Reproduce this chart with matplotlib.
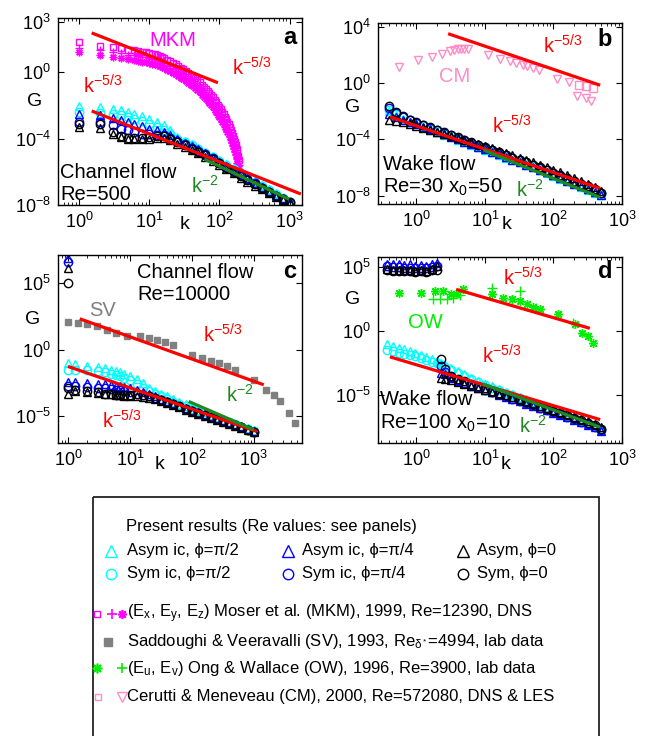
import numpy as np
import matplotlib
matplotlib.use('Agg')
import matplotlib.pyplot as plt
from matplotlib.ticker import LogLocator, NullFormatter, NullLocator
from matplotlib.patches import Rectangle

plt.rcParams['font.family'] = ['Liberation Sans', 'DejaVu Sans']
plt.rcParams['mathtext.fontset'] = 'custom'
plt.rcParams['mathtext.rm'] = 'Liberation Sans'
plt.rcParams['mathtext.it'] = 'Liberation Sans:italic'
plt.rcParams['mathtext.default'] = 'regular'

W, H = 652, 736

# ---------------- data (log10 G values) ----------------
# panel a: channel flow Re=500
ka = [1, 2, 3, 4, 5, 6, 8, 10, 13, 16, 20, 25, 32, 40, 50, 63, 80, 100, 125, 160,
      200, 250, 320, 400, 500, 630, 800, 1000]
a_cyan_tri = [-2.05, -2.1, -2.2, -2.3, -2.4, -2.5, -2.65, -2.8, -3.0, -3.2, -3.5, -3.9, -4.15, -4.35,
              -4.55, -4.8, -5.05, -5.3, -5.55, -5.8, -6.05, -6.3, -6.55, -6.8, -7.05, -7.3, -7.55, -7.75]
a_cyan_circ = [-2.4, -2.45, -2.5, -2.6, -2.7, -2.8, -2.95, -3.1, -3.3, -3.5, -3.7, -4.0, -4.2, -4.4,
               -4.6, -4.85, -5.1, -5.35, -5.6, -5.85, -6.1, -6.35, -6.6, -6.85, -7.1, -7.35, -7.6, -7.8]
a_blue_tri = [-2.55, -2.6, -2.75, -2.9, -3.0, -3.1, -3.25, -3.4, -3.5, -3.6, -3.8, -4.05, -4.25, -4.45,
              -4.65, -4.9, -5.15, -5.4, -5.65, -5.9, -6.15, -6.4, -6.65, -6.9, -7.15, -7.4, -7.6, -7.8]
a_blue_circ = [-3.0, -3.0, -3.2, -3.4, -3.5, -3.6, -3.7, -3.75, -3.8, -3.8, -3.95, -4.15, -4.35, -4.55,
               -4.75, -4.95, -5.2, -5.45, -5.7, -5.95, -6.2, -6.45, -6.7, -6.95, -7.2, -7.45, -7.65, -7.85]
a_black_tri = [-3.3, -3.35, -3.7, -3.9, -4.0, -4.05, -4.05, -4.0, -3.95, -3.95, -4.1, -4.3, -4.5, -4.7,
               -4.9, -5.1, -5.35, -5.6, -5.85, -6.1, -6.35, -6.6, -6.85, -7.05, -7.3, -7.5, -7.7, -7.85]
a_black_circ = [-3.1, -3.1, -3.6, -3.85, -3.95, -3.95, -3.95, -3.9, -3.85, -3.85, -4.0, -4.2, -4.4, -4.6,
                -4.8, -5.0, -5.25, -5.5, -5.75, -6.0, -6.25, -6.5, -6.75, -7.0, -7.2, -7.45, -7.65, -7.8]

mkm_k = [1, 2, 3, 4, 5, 6, 7, 8, 9, 10, 11, 12, 13, 14, 15, 16, 18, 20, 22, 24, 26, 28, 30,
         33, 36, 39, 42, 45, 48, 52, 56, 60, 64, 68, 72, 76, 80, 85, 90, 95, 100,
         105, 110, 115, 120, 125, 130, 135, 140, 145, 150, 155, 160, 165, 170, 175, 180, 185, 190]
mkm_ex = [1.8, 1.56, 1.48, 1.42, 1.35, 1.3, 1.26, 1.22, 1.19, 1.16, 1.11, 1.06, 1.01, 0.96, 0.9, 0.84,
          0.74, 0.66, 0.57, 0.48, 0.37, 0.26, 0.18, 0.06, -0.05, -0.16, -0.25, -0.36, -0.48, -0.62,
          -0.76, -0.9, -1.02, -1.14, -1.27, -1.39, -1.5, -1.66, -1.82, -1.96, -2.1, -2.25, -2.4,
          -2.55, -2.7, -2.85, -3.0, -3.15, -3.3, -3.48, -3.65, -3.82, -4.0, -4.2, -4.4, -4.62,
          -4.85, -5.08, -5.3]
mkm_ey = [1.46, 1.3, 1.2, 1.12, 1.05, 1.0, 0.96, 0.92, 0.89, 0.86, 0.81, 0.76, 0.71, 0.66, 0.6, 0.54,
          0.44, 0.36, 0.27, 0.18, 0.07, -0.04, -0.12, -0.24, -0.35, -0.46, -0.55, -0.66, -0.78,
          -0.92, -1.06, -1.2, -1.32, -1.44, -1.57, -1.69, -1.8, -1.96, -2.12, -2.26, -2.4, -2.55,
          -2.7, -2.85, -3.0, -3.15, -3.3, -3.45, -3.6, -3.78, -3.95, -4.12, -4.3, -4.5, -4.7,
          -4.92, -5.15, -5.38, -5.6]
mkm_ez = [1.18, 1.05, 0.92, 0.84, 0.76, 0.7, 0.66, 0.62, 0.59, 0.56, 0.51, 0.46, 0.41, 0.36, 0.3, 0.24,
          0.14, 0.06, -0.03, -0.12, -0.23, -0.34, -0.42, -0.54, -0.65, -0.76, -0.85, -0.96, -1.08,
          -1.22, -1.36, -1.5, -1.62, -1.74, -1.87, -1.99, -2.1, -2.26, -2.42, -2.56, -2.7, -2.85,
          -3.0, -3.15, -3.3, -3.45, -3.6, -3.75, -3.9, -4.08, -4.25, -4.42, -4.6, -4.8, -5.0,
          -5.22, -5.45, -5.68, -5.9]

# panel b: wake flow Re=30 x0=50
kb = [0.4, 0.5, 0.63, 0.8, 1, 1.26, 1.6, 2, 2.5, 3.2, 4, 5, 6.3, 8, 10, 12.6, 16, 20, 25, 32, 40,
      50, 63, 80, 100, 126, 160, 200, 250, 320, 400, 500]
b_cyan_tri = [-2.0, -2.3, -2.55, -2.75, -2.95, -3.15, -3.35, -3.5, -3.7, -3.85, -4.05, -4.2, -4.4, -4.55,
              -4.75, -4.9, -5.1, -5.3, -5.45, -5.65, -5.85, -6.0, -6.2, -6.4, -6.6, -6.8, -7.0, -7.2,
              -7.4, -7.6, -7.8, -7.95]
b_cyan_circ = [-1.9, -2.2, -2.45, -2.65, -2.85, -3.05, -3.25, -3.4, -3.6, -3.75, -3.95, -4.1, -4.3, -4.45,
               -4.65, -4.8, -5.0, -5.2, -5.35, -5.55, -5.75, -5.9, -6.1, -6.3, -6.5, -6.7, -6.9, -7.1,
               -7.3, -7.5, -7.7, -7.9]
b_blue_tri = [-2.2, -2.4, -2.6, -2.8, -2.95, -3.15, -3.3, -3.5, -3.65, -3.85, -4.0, -4.2, -4.35, -4.55,
              -4.7, -4.9, -5.05, -5.25, -5.45, -5.6, -5.8, -6.0, -6.15, -6.35, -6.55, -6.75, -6.95, -7.15,
              -7.35, -7.55, -7.75, -7.95]
b_blue_circ = [-1.75, -2.15, -2.45, -2.65, -2.85, -3.0, -3.2, -3.35, -3.55, -3.7, -3.9, -4.05, -4.25, -4.4,
               -4.6, -4.75, -4.95, -5.1, -5.3, -5.5, -5.65, -5.85, -6.05, -6.2, -6.4, -6.6, -6.8, -7.0,
               -7.2, -7.4, -7.6, -7.85]
b_black_tri = [-2.6, -2.7, -2.8, -2.9, -3.05, -3.2, -3.35, -3.5, -3.6, -3.75, -3.9, -4.05, -4.2, -4.35,
               -4.5, -4.65, -4.8, -4.95, -5.15, -5.3, -5.45, -5.65, -5.8, -6.0, -6.15, -6.35, -6.55,
               -6.75, -6.95, -7.15, -7.4, -7.65]
b_black_circ = [-1.65, -2.05, -2.35, -2.6, -2.8, -3.0, -3.15, -3.35, -3.5, -3.7, -3.85, -4.05, -4.2, -4.4,
                -4.55, -4.75, -4.9, -5.1, -5.3, -5.45, -5.65, -5.8, -6.0, -6.2, -6.4, -6.55, -6.75,
                -6.95, -7.15, -7.35, -7.55, -7.8]

cm_tri_k = [0.55, 1.07, 1.66, 2.34, 3.09, 3.55, 3.98, 4.47, 5.01, 5.62, 11.2, 16.6, 23.4, 28.2, 35.5,
            41.7, 50.1, 61.7, 112, 166, 219, 295, 355]
cm_tri_g = [1.13, 1.61, 1.84, 2.08, 2.3, 2.35, 2.38, 2.4, 2.4, 2.38, 1.96, 1.73, 1.55, 1.45, 1.3, 1.2,
            1.05, 0.92, 0.31, 0.07, -0.9, -1.1, -1.26]
cm_sq_k = [234, 295, 372]
cm_sq_g = [-0.16, -0.2, -0.35]

# panel c: channel flow Re=10000
kc = [1, 1.3, 2, 3, 4, 5, 6, 7, 8, 10, 13, 16, 20, 25, 32, 40, 50, 63, 80, 100, 126, 160, 200,
      250, 320, 400, 500, 630, 800, 1000]
c_cyan_tri = [-1.0, -1.05, -1.2, -1.3, -1.4, -1.5, -1.6, -1.7, -1.8, -2.0, -2.2, -2.5, -2.85, -3.1,
              -3.3, -3.5, -3.7, -3.9, -4.1, -4.3, -4.5, -4.7, -4.9, -5.05, -5.25, -5.4, -5.55, -5.75,
              -5.9, -6.05]
c_cyan_circ = [-1.5, -1.5, -1.55, -1.6, -1.7, -1.8, -1.9, -2.0, -2.1, -2.3, -2.6, -2.9, -3.1, -3.3,
               -3.5, -3.7, -3.9, -4.05, -4.25, -4.45, -4.6, -4.8, -4.95, -5.15, -5.3, -5.45, -5.6,
               -5.8, -5.95, -6.1]
c_blue_tri = [-2.4, -2.4, -2.5, -2.55, -2.6, -2.65, -2.7, -2.75, -2.8, -2.9, -3.0, -3.15, -3.35, -3.5,
              -3.7, -3.85, -4.0, -4.2, -4.4, -4.55, -4.7, -4.85, -5.0, -5.15, -5.3, -5.45, -5.6, -5.75,
              -5.95, -6.1]
c_blue_circ = [-2.7, -2.7, -2.8, -2.85, -2.9, -2.95, -3.0, -3.05, -3.1, -3.2, -3.3, -3.4, -3.5, -3.65,
               -3.8, -3.95, -4.1, -4.25, -4.45, -4.6, -4.75, -4.9, -5.05, -5.2, -5.35, -5.5, -5.65,
               -5.8, -6.0, -6.15]
c_black_tri = [-3.3, -3.1, -3.2, -3.25, -3.3, -3.35, -3.4, -3.4, -3.45, -3.5, -3.5, -3.55, -3.6, -3.7,
               -3.85, -4.0, -4.15, -4.3, -4.5, -4.65, -4.8, -4.95, -5.1, -5.25, -5.4, -5.55, -5.7,
               -5.85, -6.05, -6.2]
c_black_circ = [-2.9, -3.0, -3.1, -3.2, -3.3, -3.35, -3.4, -3.4, -3.4, -3.4, -3.35, -3.4, -3.5, -3.65,
                -3.8, -3.95, -4.1, -4.25, -4.45, -4.6, -4.75, -4.9, -5.05, -5.2, -5.35, -5.5, -5.65,
                -5.8, -6.0, -6.15]
# k=1 outliers (blue tri, blue circ, black tri, black circ)
c_spike = [6.88, 6.63, 6.13, 5.0]

sv_k = [1, 1.45, 2.04, 2.9, 4.2, 6.0, 8.9, 14.5, 20, 27, 37, 50, 100, 145, 200, 270, 370, 500,
        1000, 1550, 2090, 2690, 3720, 4680]
sv_g = [2.12, 2.0, 1.92, 1.75, 1.5, 1.25, 1.05, 1.0, 0.87, 0.75, 0.55, 0.37, -0.37, -0.62, -0.87,
        -1.0, -1.25, -1.5, -2.25, -3.0, -3.37, -3.87, -4.75, -5.5]

# panel d: wake flow Re=100 x0=10
kd = [0.37, 0.45, 0.55, 0.65, 0.8, 0.95, 1.15, 1.4, 1.7, 2.0, 2.3, 2.6, 3.2, 4, 5, 6.3, 8, 10,
      12.6, 16, 20, 25, 32, 40, 50, 63, 80, 100, 126, 160, 200, 250, 320, 400, 500]
d_cyan_tri = [-1.0, -1.15, -1.3, -1.45, -1.6, -1.75, -1.9, -2.05, -2.2, -2.35, -2.5, -2.65, -2.9, -3.15,
              -3.4, -3.65, -3.9, -4.15, -4.35, -4.55, -4.75, -4.95, -5.15, -5.35, -5.55, -5.75, -5.95,
              -6.15, -6.35, -6.55, -6.75, -6.95, -7.15, -7.35, -7.6]
d_cyan_circ = [-1.5, -1.6, -1.7, -1.8, -1.9, -2.0, -2.1, -2.25, -2.4, -2.55, -2.7, -2.85, -3.05, -3.3,
               -3.55, -3.8, -4.0, -4.25, -4.45, -4.65, -4.85, -5.05, -5.25, -5.45, -5.65, -5.85, -6.05,
               -6.25, -6.45, -6.65, -6.85, -7.05, -7.25, -7.45, -7.7]
d_blue_tri = [5.25, 5.2, 5.2, 5.15, 5.2, 5.1, 5.15, 5.1, 5.2, 5.3, -3.3, -3.4, -3.7, -3.9, -4.1, -4.3,
              -4.45, -4.65, -4.8, -5.0, -5.15, -5.35, -5.5, -5.7, -5.85, -6.05, -6.2, -6.4, -6.55,
              -6.75, -6.95, -7.15, -7.35, -7.55, -7.8]
d_blue_circ = [5.05, 5.0, 5.0, 4.95, 4.95, 4.9, 4.95, 4.9, 5.0, 5.05, -2.75, -3.2, -3.6, -3.85, -4.05,
               -4.25, -4.4, -4.6, -4.75, -4.95, -5.1, -5.3, -5.45, -5.65, -5.8, -6.0, -6.15, -6.35,
               -6.5, -6.7, -6.9, -7.1, -7.3, -7.5, -7.75]
d_black_tri = [4.85, 4.8, 4.8, 4.75, 4.8, 4.7, 4.75, 4.7, 4.85, 5.05, -3.65, -3.8, -3.85, -4.0, -4.15,
               -4.3, -4.45, -4.6, -4.75, -4.9, -5.05, -5.2, -5.35, -5.5, -5.65, -5.85, -6.0, -6.15,
               -6.35, -6.5, -6.7, -6.9, -7.05, -7.25, -7.5]
d_black_circ = [4.75, 4.7, 4.7, 4.65, 4.7, 4.6, 4.65, 4.6, 4.75, 4.8, -2.2, -3.0, -3.5, -3.75, -3.95,
                -4.15, -4.35, -4.5, -4.7, -4.85, -5.05, -5.2, -5.4, -5.55, -5.75, -5.9, -6.1, -6.25,
                -6.45, -6.6, -6.8, -7.0, -7.2, -7.4, -7.65]

ow_star_k = [0.56, 1.17, 1.86, 2.45, 3.24, 3.8, 4.8, 12.6, 18.6, 24.5, 32.4, 40.7, 50.1, 63.1, 117,
             204, 257, 324, 380]
ow_star_g = [2.99, 2.99, 3.12, 3.12, 2.86, 2.86, 3.25, 2.86, 2.6, 2.47, 2.34, 2.08, 1.9, 1.69, 1.3,
             0.52, -0.13, -0.39, -0.91]
ow_plus_k = [1.74, 2.19, 2.75, 3.47, 4.27, 12.6, 32.4, 56.2, 195]
ow_plus_g = [2.47, 2.47, 2.52, 2.6, 2.78, 3.38, 3.12, 1.82, 0.65]

# fitted power-law lines: (k ends, log10 G ends)
fits = {
    'a': [([1.51, 95], [2.36, -0.64], 'red'), ([1.51, 1445], [-2.34, -7.34], 'red'),
          ([61, 980], [-5.24, -7.65], 'green')],
    'b': [([2.9, 480], [3.5, -0.16], 'red'), ([0.41, 480], [-2.41, -7.49], 'red'),
          ([9.5, 480], [-4.77, -8.13], 'green')],
    'c': [([1.55, 1450], [2.33, -2.63], 'red'), ([1.0, 1120], [-1.25, -6.13], 'red'),
          ([89, 1000], [-3.88, -6.0], 'green')],
    'd': [([3.8, 340], [3.25, 0.2], 'red'), ([0.41, 480], [-2.03, -6.94], 'red'),
          ([9.3, 480], [-4.15, -7.53], 'green')],
}

CYAN, BLUE, MAG, GRAY = '#00FFFF', '#0000FF', '#FF00FF', '#808080'
OWG, PINK, RED, DGREEN = '#00EE00', '#FF8CC6', '#FF0000', '#1F8A1F'
LINE_COL = {'red': RED, 'green': DGREEN}
ASTER = (8, 2, 0)   # matlab-like '*' marker
present_styles = [('^', CYAN), ('o', CYAN), ('^', BLUE), ('o', BLUE), ('^', 'k'), ('o', 'k')]

fig = plt.figure(figsize=(W / 100, H / 100), dpi=100)


def add_ax(x0, y0, x1, y1):
    return fig.add_axes([x0 / W, 1 - y1 / H, (x1 - x0) / W, (y1 - y0) / H])


def setup(ax, xlim, ylim, yticks):
    ax.set_xscale('log')
    ax.set_yscale('log')
    ax.set_xlim(xlim)
    ax.set_ylim(ylim)
    ax.set_xticks([1, 10, 100, 1000])
    ax.set_yticks(yticks)
    ax.xaxis.set_minor_locator(LogLocator(base=10, subs=np.arange(2, 10), numticks=20))
    ax.xaxis.set_minor_formatter(NullFormatter())
    ax.yaxis.set_minor_locator(NullLocator())
    ax.tick_params(which='both', direction='in', top=True, right=True, labelsize=13)
    ax.tick_params(which='major', length=4, width=0.8, pad=5)
    ax.tick_params(which='minor', length=2, width=0.6)
    for s in ax.spines.values():
        s.set_linewidth(1.0)


def pts(ax, k, lg, m, c, ms=6, filled=False, mew=1.0, z=2):
    ax.plot(k, 10.0 ** np.asarray(lg), ls='none', marker=m, ms=ms, mec=c,
            mfc=c if filled else 'none', mew=mew, zorder=z)


def present(ax, k, series):
    for (m, c), lg in zip(present_styles, series):
        pts(ax, k, lg, m, c)


def draw_fits(ax, key):
    for kk, lg, c in fits[key]:
        ax.plot(kk, 10.0 ** np.asarray(lg), color=LINE_COL[c], lw=2.3, zorder=4,
                solid_capstyle='butt')


def ftext(x, y, s, **kw):
    fig.text(x / W, 1 - y / H, s, **kw)


# ---------------- panel a ----------------
axa = add_ax(58, 18, 302, 205)
setup(axa, (0.5, 1500), (1e-8, 1800), [1e-8, 1e-4, 1e0, 1e3])
pts(axa, mkm_k, mkm_ex, 's', MAG, ms=4.5)
pts(axa, mkm_k, mkm_ey, '+', MAG, ms=5.5)
pts(axa, mkm_k, mkm_ez, ASTER, MAG, ms=5.5)
present(axa, ka, [a_cyan_tri, a_cyan_circ, a_blue_tri, a_blue_circ, a_black_tri, a_black_circ])
draw_fits(axa, 'a')

# ---------------- panel b ----------------
axb = add_ax(378, 23, 622, 204)
setup(axb, (0.275, 1000), (10 ** -8.6, 10 ** 4.26), [1e-8, 1e-4, 1e0, 1e4])
pts(axb, cm_tri_k, cm_tri_g, 'v', PINK, ms=6)
pts(axb, cm_sq_k, cm_sq_g, 's', PINK, ms=5.5)
present(axb, kb, [b_cyan_tri, b_cyan_circ, b_blue_tri, b_blue_circ, b_black_tri, b_black_circ])
draw_fits(axb, 'b')

# ---------------- panel c ----------------
axc = add_ax(58, 255, 302, 443)
setup(axc, (0.69, 6000), (1e-7, 10 ** 7.12), [1e-5, 1e0, 1e5])
pts(axc, sv_k, sv_g, 's', GRAY, ms=4.8, filled=True)
present(axc, kc, [c_cyan_tri, c_cyan_circ, c_blue_tri, c_blue_circ, c_black_tri, c_black_circ])
for (m, c), lg in zip(present_styles[2:], c_spike):
    pts(axc, [1], [lg], m, c)
draw_fits(axc, 'c')

# ---------------- panel d ----------------
axd = add_ax(378, 257, 622, 443)
setup(axd, (0.275, 1000), (10 ** -8.77, 10 ** 5.78), [1e-5, 1e0, 1e5])
pts(axd, ow_star_k, ow_star_g, ASTER, OWG, ms=6.5)
pts(axd, ow_plus_k, ow_plus_g, '+', OWG, ms=6.5)
present(axd, kd, [d_cyan_tri, d_cyan_circ, d_blue_tri, d_blue_circ, d_black_tri, d_black_circ])
draw_fits(axd, 'd')

# ---------------- panel annotations ----------------
TS = 14.5
K53 = 'k$^{-5/3}$'
K2 = 'k$^{-2}$'
for x, y in [(35, 101), (353, 107), (33, 320), (353, 300)]:
    ftext(x, y, 'G', fontsize=14, ha='center', va='center')
for x, y in [(185, 225), (507, 225), (160, 465), (506, 465)]:
    ftext(x, y, 'k', fontsize=14, ha='center', va='center')
for x, y, s in [(290, 37, 'a'), (605, 40, 'b'), (290, 272, 'c'), (605, 272, 'd')]:
    ftext(x, y, s, fontsize=17, fontweight='bold', ha='center', va='center')

ftext(173, 40, 'MKM', color=MAG, fontsize=TS, ha='center', va='center')
ftext(252, 68, K53, color=RED, fontsize=TS, ha='center', va='center')
ftext(103, 86, K53, color=RED, fontsize=TS, ha='center', va='center')
ftext(205, 186, K2, color=DGREEN, fontsize=TS, ha='center', va='center')
ftext(60, 183.5, 'Channel flow\nRe=500', fontsize=TS, ha='left', va='center', linespacing=1.2)

ftext(455, 77, 'CM', color=PINK, fontsize=TS, ha='center', va='center')
ftext(563, 46, K53, color=RED, fontsize=TS, ha='center', va='center')
ftext(512, 126, K53, color=RED, fontsize=TS, ha='center', va='center')
ftext(530, 190, K2, color=DGREEN, fontsize=TS, ha='center', va='center')
ftext(383, 176.5, 'Wake flow\nRe=30 x$_0$=50', fontsize=TS, ha='left', va='center', linespacing=1.2)

ftext(137, 283.5, 'Channel flow\nRe=10000', fontsize=TS, ha='left', va='center', linespacing=1.2)
ftext(103, 310, 'SV', color=GRAY, fontsize=TS, ha='center', va='center')
ftext(223, 335, K53, color=RED, fontsize=TS, ha='center', va='center')
ftext(122, 421, K53, color=RED, fontsize=TS, ha='center', va='center')
ftext(240, 395, K2, color=DGREEN, fontsize=TS, ha='center', va='center')

ftext(425, 322, 'OW', color=OWG, fontsize=TS, ha='center', va='center')
ftext(523, 278, K53, color=RED, fontsize=TS, ha='center', va='center')
ftext(502, 356, K53, color=RED, fontsize=TS, ha='center', va='center')
ftext(533, 426, K2, color=DGREEN, fontsize=TS, ha='center', va='center')
ftext(380, 412, 'Wake flow\nRe=100 x$_0$=10', fontsize=TS, ha='left', va='center', linespacing=1.2)

# ---------------- legend box ----------------
lax = fig.add_axes([0, 0, 1, 1])
lax.set_xlim(0, W)
lax.set_ylim(H, 0)
lax.axis('off')
lax.add_patch(Rectangle((93, 497), 506, 260, fill=False, lw=1.3, ec='#222222'))
LS = 12


def lmark(x, y, m, c, ms, filled=False, mew=1.0):
    lax.plot([x], [y], ls='none', marker=m, ms=ms, mec=c, mfc=c if filled else 'none', mew=mew)


def ltext(x, y, s):
    lax.text(x, y, s, fontsize=LS, ha='left', va='center')


ltext(126, 527, 'Present results (Re values: see panels)')
rows = [(551, '^', ['Asym ic, ϕ=π/2', 'Asym ic, ϕ=π/4', 'Asym, ϕ=0']),
        (573.5, 'o', ['Sym ic, ϕ=π/2', 'Sym ic, ϕ=π/4', 'Sym, ϕ=0'])]
cols = [(110.5, 127, CYAN), (288, 302, BLUE), (462.5, 477, 'k')]
for y, m, labels in rows:
    for (mx, tx, c), lab in zip(cols, labels):
        lmark(mx, y, m, c, 8.5 if m == '^' else 7.5)
        ltext(tx, y, lab)

lmark(97, 614, 's', MAG, 5)
lmark(111.5, 614, '+', MAG, 6.5, mew=1.2)
lmark(121.5, 614, ASTER, MAG, 6.5, mew=1.2)
ltext(127, 614, '(E$_x$, E$_y$, E$_z$) Moser et al. (MKM), 1999, Re=12390, DNS')
lmark(108, 641.5, 's', GRAY, 5.5, filled=True)
ltext(127, 641.5, 'Saddoughi & Veeravalli (SV), 1993, Re$_{\\delta^*}$=4994, lab data')
lmark(97, 668, ASTER, OWG, 7, mew=1.2)
lmark(121.5, 668, '+', OWG, 7, mew=1.2)
ltext(127, 668, '(E$_u$, E$_v$) Ong & Wallace (OW), 1996, Re=3900, lab data')
lmark(98, 697, 's', PINK, 5)
lmark(121.5, 697, 'v', PINK, 6.5)
ltext(127, 697, 'Cerutti & Meneveau (CM), 2000, Re=572080, DNS & LES')

fig.savefig('out.png', dpi=100)
